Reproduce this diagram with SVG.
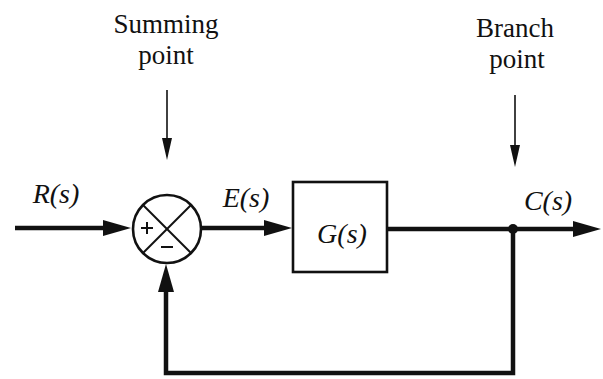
<svg xmlns="http://www.w3.org/2000/svg" width="603" height="379" viewBox="0 0 603 379">
<style>
.lbl{font-family:'Liberation Serif','Times New Roman',serif;font-size:27px;fill:#111;text-anchor:middle}
.sig{font-family:'Liberation Serif','Times New Roman',serif;font-style:italic;font-size:28px;fill:#111;text-anchor:middle}
.thick{stroke:#111;stroke-width:4.5;fill:none}
.thin{stroke:#111;stroke-width:1.6;fill:none}
.shape{stroke:#111;stroke-width:2.6;fill:#fff}
</style>
<defs>
<marker id="big" markerUnits="userSpaceOnUse" markerWidth="30" markerHeight="18" refX="18" refY="8" orient="auto">
<path d="M0,0 L28,8 L0,16 Z" fill="#111"/>
</marker>
<marker id="small" markerUnits="userSpaceOnUse" markerWidth="22" markerHeight="12" refX="16" refY="5" orient="auto">
<path d="M0,0 L22,5 L0,10 Z" fill="#111"/>
</marker>
</defs>

<g id="labels">
<text class="lbl" x="166" y="33">Summing</text>
<text class="lbl" x="166" y="64">point</text>
<text class="lbl" x="515" y="37">Branch</text>
<text class="lbl" x="517" y="68">point</text>
</g>

<g id="connectors">
<line class="thin" x1="167" y1="90" x2="167" y2="154" marker-end="url(#small)"/>
<line class="thin" x1="515" y1="95" x2="515" y2="161" marker-end="url(#small)"/>
<line class="thick" x1="15" y1="228" x2="121" y2="228" marker-end="url(#big)"/>
<line class="thick" x1="201" y1="228" x2="282" y2="228" marker-end="url(#big)"/>
<line class="thick" x1="387" y1="229" x2="591" y2="229" marker-end="url(#big)"/>
<path class="thick" d="M513,229 V373 H166 V274" marker-end="url(#big)"/>
<text class="sig" x="56" y="203">R(s)</text>
<text class="sig" x="246" y="207">E(s)</text>
<text class="sig" x="548" y="210">C(s)</text>
</g>

<g id="summing-point">
<circle class="shape" cx="167" cy="229" r="34"/>
<line stroke="#111" stroke-width="2" x1="143" y1="205" x2="191" y2="253"/>
<line stroke="#111" stroke-width="2" x1="191" y1="205" x2="143" y2="253"/>
<path d="M141,228 H153 M147,222 V234" stroke="#111" stroke-width="2" fill="none"/>
<path d="M161,247 H173" stroke="#111" stroke-width="2" fill="none"/>
</g>

<g id="G">
<rect class="shape" x="293" y="182" width="94" height="90"/>
<text class="sig" x="342" y="243">G(s)</text>
</g>

<g id="branch-point">
<circle cx="513" cy="229" r="5" fill="#111"/>
</g>
</svg>
